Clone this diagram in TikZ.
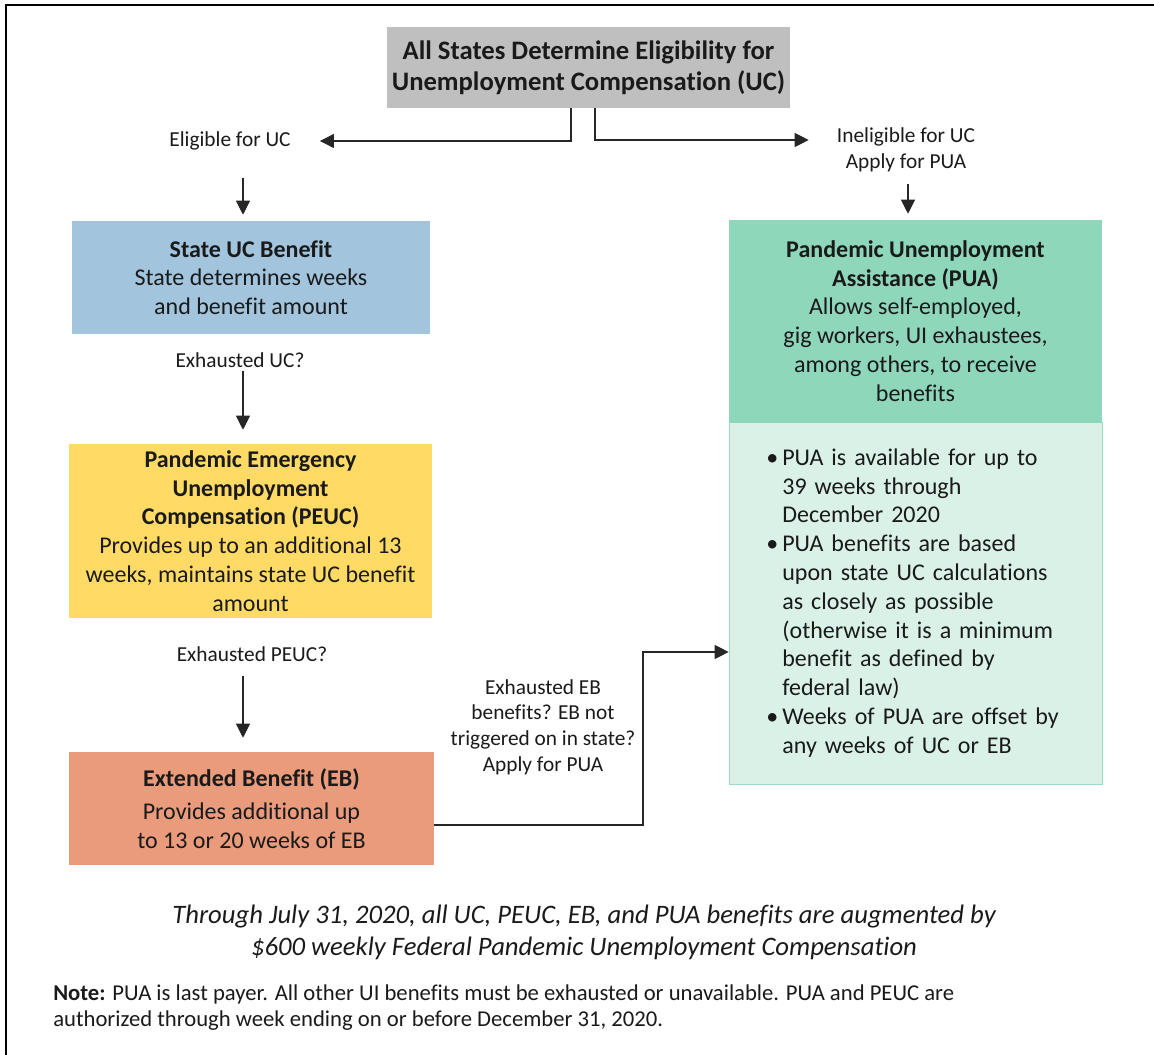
\documentclass[tikz,border=0pt]{standalone}
\usepackage{fontspec}
\setmainfont{Carlito}[RawFeature={-liga;-clig;-calt;-dlig}]
\usetikzlibrary{arrows.meta}
\definecolor{grayfill}{HTML}{BFBFBF}
\definecolor{bluefill}{HTML}{A2C4DD}
\definecolor{yellowfill}{HTML}{FFDB66}
\definecolor{orangefill}{HTML}{EA9B7C}
\definecolor{greenfill}{HTML}{8FD7BA}
\definecolor{lightgreen}{HTML}{DAF1E8}
\definecolor{greenline}{HTML}{9ED9C2}
\definecolor{txt}{HTML}{1A1A1A}
\tikzset{
  box/.style={inner sep=0pt, align=center, text=txt, font=\fontsize{18pt}{21.6pt}\selectfont},
  lbl/.style={inner sep=0pt, align=center, text=txt, font=\fontsize{16pt}{19.2pt}\selectfont},
  arr/.style={draw=black!85, line width=0.8pt, -{Triangle[length=10.5pt,width=10.5pt]}},
  conn/.style={draw=black!85, line width=0.8pt}
}
\begin{document}
\begin{tikzpicture}[x=0.75pt,y=-0.75pt]
\useasboundingbox (0,0) rectangle (1154,1055);
% frame
\draw[line width=1.6pt] (6,1060) -- (6,5) -- (1160,5);

% top box
\node[box, fill=grayfill, minimum width={403*0.75pt}, minimum height={81*0.75pt},
  font=\bfseries\fontsize{20pt}{23.2pt}\selectfont] (top) at (588.5,67.5)
  {All States Determine Eligibility for\\Unemployment Compensation (UC)};

% labels
\node[lbl] (elig) at (230,141) {Eligible for UC};
\node[lbl] (inelig) at (906,150) {Ineligible for UC\\Apply for PUA};

\coordinate (colL) at (243,0);
\coordinate (colR) at (908,0);

% left boxes
\node[box, fill=bluefill, minimum width={358*0.75pt}, minimum height={113*0.75pt}] (uc) at (251,277.5)
  {\textbf{State UC Benefit}\\State determines weeks\\and benefit amount};
\node[lbl] (exuc) at (240,360) {Exhausted UC?};
\node[box, fill=yellowfill, minimum width={363*0.75pt}, minimum height={174*0.75pt}] (peuc) at (250.5,531)
  {\textbf{Pandemic Emergency}\\\textbf{Unemployment}\\\textbf{Compensation (PEUC)}\\Provides up to an additional 13\\weeks, maintains state UC benefit\\amount};
\node[lbl] (expeuc) at (252,654) {Exhausted PEUC?};
\node[box, fill=orangefill, minimum width={365*0.75pt}, minimum height={113*0.75pt}] (eb) at (251.5,808.5)
  {\textbf{Extended Benefit (EB)}\\[3pt]Provides additional up\\to 13 or 20 weeks of EB};
\node[lbl] (exeb) at (543,727) {Exhausted EB\\benefits? EB not\\triggered on in state?\\Apply for PUA};

% right boxes
\node[box, fill=greenfill, minimum width={373*0.75pt}, minimum height={202*0.75pt}] (pua) at (915.5,321)
  {\textbf{Pandemic Unemployment}\\\textbf{Assistance (PUA)}\\Allows self-employed,\\gig workers, UI exhaustees,\\among others, to receive\\benefits};
\node[box, fill=lightgreen, draw=greenline, line width=0.5pt, minimum width={373*0.75pt}, minimum height={362*0.75pt},
  align=left, text width={373*0.75pt}] (pualist) at (915.5,603)
  {\hspace*{28pt}\makebox[12pt][l]{•}PUA is available for up to\\
   \hspace*{40pt}39 weeks through\\
   \hspace*{40pt}December 2020\\
   \hspace*{28pt}\makebox[12pt][l]{•}PUA benefits are based\\
   \hspace*{40pt}upon state UC calculations\\
   \hspace*{40pt}as closely as possible\\
   \hspace*{40pt}(otherwise it is a minimum\\
   \hspace*{40pt}benefit as defined by\\
   \hspace*{40pt}federal law)\\
   \hspace*{28pt}\makebox[12pt][l]{•}Weeks of PUA are offset by\\
   \hspace*{40pt}any weeks of UC or EB};
\fill[greenfill] (pua.south west) rectangle ([yshift=0.4pt]pua.south east);

% connectors
\draw[arr] ([xshift={-17.5*0.75pt}]top.south) |- ([xshift={29*0.75pt}]elig.east);
\draw[arr] ([xshift={6.5*0.75pt}]top.south) |- ([xshift={-28*0.75pt},yshift={10*0.75pt}]inelig.west);
\draw[arr] ([yshift={-27*0.75pt}]elig.south -| colL) -- ([yshift={6*0.75pt}]uc.north -| colL);
\draw[arr] ([yshift={-3*0.75pt}]exuc.south -| colL) -- ([yshift={14*0.75pt}]peuc.north -| colL);
\draw[arr] ([yshift={-14*0.75pt}]expeuc.south -| colL) -- ([yshift={14*0.75pt}]eb.north -| colL);
\draw[arr] ([yshift={-12*0.75pt}]inelig.south -| colR) -- ([yshift={6*0.75pt}]pua.north -| colR);
\draw[arr] ([yshift={-16.5*0.75pt}]eb.east) -| (643,690) |- ([yshift={-49*0.75pt}]pualist.west);

% footnotes
\node[inner sep=0pt, align=center, text=txt, font=\itshape\fontsize{20pt}{24pt}\selectfont] (aug) at (584,932)
  {Through July 31, 2020, all UC, PEUC, EB, and PUA benefits are augmented by\\\$600 weekly Federal Pandemic Unemployment Compensation};
\node[inner sep=0pt, align=left, anchor=west, text=txt, font=\fontsize{17pt}{19.5pt}\selectfont] (note) at (53,1008)
  {\textbf{Note:} PUA is last payer. All other UI benefits must be exhausted or unavailable. PUA and PEUC are\\authorized through week ending on or before December 31, 2020.};
\end{tikzpicture}
\end{document}
